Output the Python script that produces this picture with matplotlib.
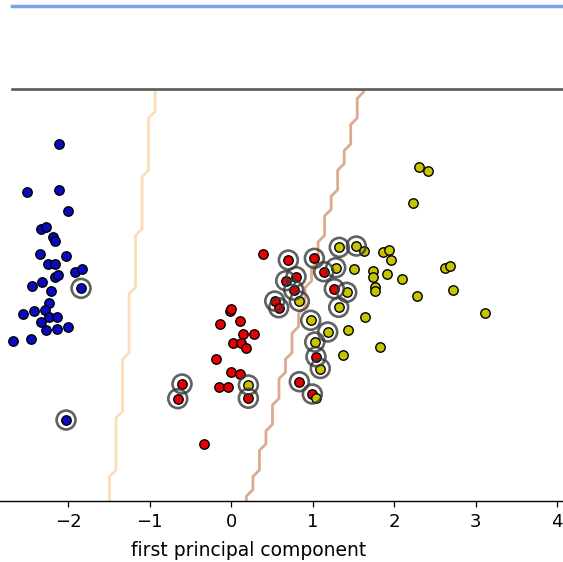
import numpy as np
import matplotlib
matplotlib.use("Agg")
import matplotlib.pyplot as plt
from matplotlib.lines import Line2D

# ---- data (first / second principal component) ----
blue_x = [-2.117, -2.509, -2.117, -1.999, -2.330, -2.276, -2.190, -2.166, -2.350, -2.023,
          -2.252, -2.158, -1.913, -1.834, -2.166, -2.125, -2.444, -2.321, -2.211, -2.232,
          -2.555, -2.423, -2.281, -2.232, -2.134, -2.330, -2.272, -2.137, -1.999, -2.674,
          -2.460, -1.843, -2.027]
blue_y = [1.849, 1.267, 1.288, 1.034, 0.810, 0.834, 0.708, 0.663, 0.499, 0.479,
          0.380, 0.380, 0.286, 0.319, 0.225, 0.249, 0.114, 0.156, 0.053, -0.094,
          -0.237, -0.200, -0.188, -0.274, -0.266, -0.335, -0.429, -0.417, -0.389, -0.561,
          -0.544, 0.082, -1.534]

red_x = [-0.018, -0.002, -0.141, 0.112, 0.141, 0.283, 0.018, 0.120, 0.178, -0.187,
         -0.002, 0.112, -0.146, -0.043, -0.330, 0.394,
         -0.604, -0.656, 0.210, 0.701, 1.020, 0.669, 0.795, 0.767, 1.135, 0.534,
         0.583, 1.265, 1.040, 0.836, 0.995]
red_y = [-0.193, -0.172, -0.360, -0.319, -0.479, -0.475, -0.593, -0.593, -0.650, -0.785,
         -0.941, -0.966, -1.133, -1.133, -1.828, 0.499,
         -1.092, -1.272, -1.267, 0.429, 0.450, 0.175, 0.225, 0.061, 0.286, -0.074,
         -0.156, 0.077, -0.757, -1.064, -1.215]

yellow_x = [0.210, 1.326, 1.535, 1.282, 0.836, 1.417, 1.319, 0.975, 1.184, 1.025, 1.093,
            1.633, 1.509, 1.439, 1.645, 1.366, 1.044, 2.301, 2.415, 2.231, 1.859, 1.936,
            1.955, 1.742, 1.742, 1.908, 2.093, 2.623, 2.679, 1.768, 1.768, 2.277, 2.719,
            3.112, 1.826]
yellow_y = [-1.104, 0.585, 0.601, 0.335, -0.077, 0.033, -0.151, -0.310, -0.454, -0.577, -0.902,
            0.544, 0.317, -0.432, -0.270, -0.730, -1.264, 1.571, 1.521, 1.126, 0.524, 0.552,
            0.429, 0.297, 0.225, 0.264, 0.196, 0.335, 0.360, 0.102, 0.045, -0.012, 0.058,
            -0.223, -0.640]

# support vectors (subset of the points above)
sv_x = [-1.843, -2.027,
        -0.604, -0.656, 0.210, 0.701, 1.020, 0.669, 0.795, 0.767, 1.135, 0.534,
        0.583, 1.265, 1.040, 0.836, 0.995,
        0.210, 1.326, 1.535, 1.282, 0.836, 1.417, 1.319, 0.975, 1.184, 1.025, 1.093]
sv_y = [0.082, -1.534,
        -1.092, -1.272, -1.267, 0.429, 0.450, 0.175, 0.225, 0.061, 0.286, -0.074,
        -0.156, 0.077, -0.757, -1.064, -1.215,
        -1.104, 0.585, 0.601, 0.335, -0.077, 0.033, -0.151, -0.310, -0.454, -0.577, -0.902]

# linear decision boundaries: class changes where x = intercept + slope * y
boundary_intercepts = [-1.216, 0.911]
boundary_slopes = [0.1099, 0.2796]

xlim = (-3.674, 4.112)
ylim = (-2.528, 2.528)
xticks = [-3, -2, -1, 0, 1, 2, 3, 4]
xlabel = "first principal component"

# ---- figure ----
fig = plt.figure(figsize=(5.63, 5.62), dpi=100)
ax = fig.add_axes([-0.1211, 0.1085, 1.1270, 0.7331])

h = 0.08
gx = np.arange(xlim[0] - 0.5, xlim[1] + 0.5, h)
gy = np.arange(ylim[0] - 0.5, ylim[1] + 0.5, h)
xx, yy = np.meshgrid(gx, gy)
Z = np.zeros_like(xx)
for a, c in zip(boundary_intercepts, boundary_slopes):
    Z += (xx > a + c * yy).astype(float)
ax.contour(xx, yy, Z, levels=[0.5, 1.5], colors=["#fcdcba", "#dcaa90"], linewidths=2.0)

pt_kw = dict(s=46, edgecolors="k", linewidths=1.0, zorder=3)
ax.scatter(blue_x, blue_y, c="#0a0ac4", **pt_kw)
ax.scatter(red_x, red_y, c="#e80000", **pt_kw)
ax.scatter(yellow_x, yellow_y, c="#c8c400", **pt_kw)
ax.scatter(sv_x, sv_y, s=185, facecolors="none", edgecolors="#3a3a3a",
           linewidths=1.9, alpha=0.8, zorder=4)

ax.set_xlim(*xlim)
ax.set_ylim(*ylim)
ax.set_xticks(xticks)
ax.set_yticks([])
for s in ["left", "right", "top"]:
    ax.spines[s].set_visible(False)
ax.spines["bottom"].set_linewidth(1.0)
ax.tick_params(axis="x", labelsize=13, length=4.5, width=0.9, pad=4)
ax.set_xlabel(xlabel, fontsize=13.5, labelpad=7)

# frame lines at the top of the crop
fig.add_artist(Line2D([12 / 563, 1], [1 - 6 / 562, 1 - 6 / 562], color="#7ba3e8",
                      linewidth=2.5, transform=fig.transFigure))
fig.add_artist(Line2D([12 / 563, 1], [1 - 89 / 562, 1 - 89 / 562], color="#5a5a5a",
                      linewidth=1.9, transform=fig.transFigure))

fig.savefig("out.png", dpi=100)
